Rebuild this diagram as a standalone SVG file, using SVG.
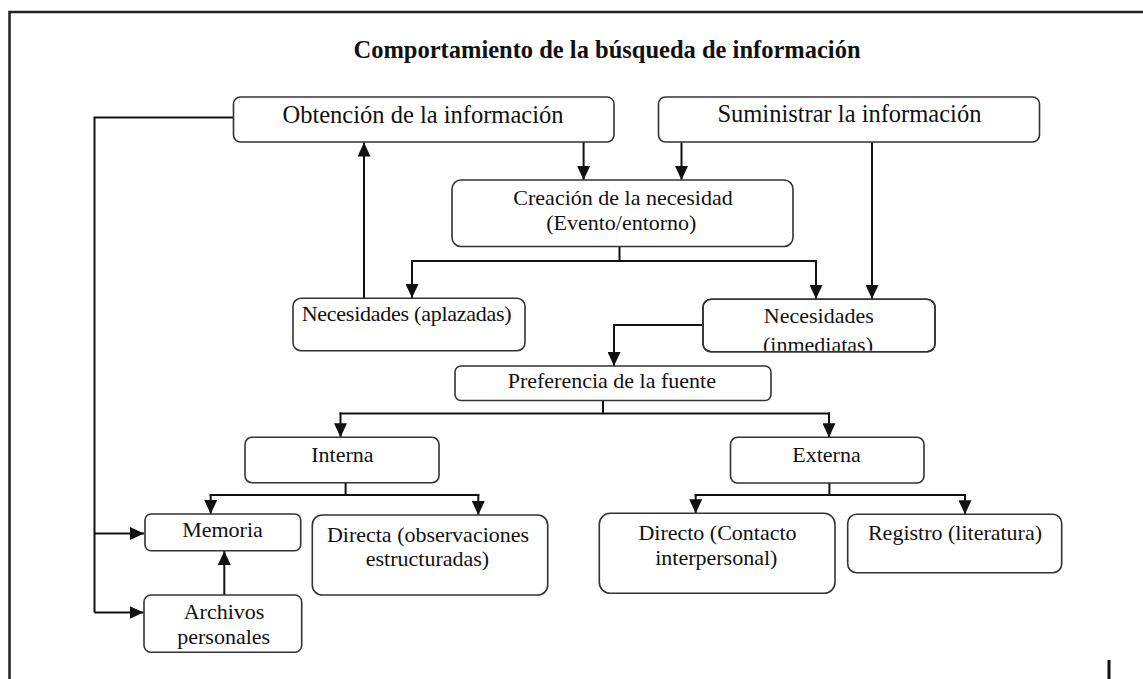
<svg xmlns="http://www.w3.org/2000/svg" width="1143" height="679" viewBox="0 0 1143 679">
<style>
.box{fill:#fff;stroke:#333;stroke-width:1.6}
.t{font-family:"Liberation Serif","Times New Roman",serif;font-size:22px;fill:#111;text-anchor:middle}
.tb{font-size:24.5px}
.title{font-family:"Liberation Serif","Times New Roman",serif;font-size:24.5px;font-weight:bold;fill:#111;text-anchor:middle}
.c{fill:none;stroke:#111;stroke-width:2}
.frame{fill:none;stroke:#222;stroke-width:2.5}
</style>
<defs>
<marker id="ah" markerUnits="userSpaceOnUse" markerWidth="14" markerHeight="13" refX="14" refY="6.5" orient="auto">
<path d="M0,0 L14,6.5 L0,13 z" fill="#111"/>
</marker>
<clipPath id="clipInm"><rect x="703" y="299" width="232" height="51.8"/></clipPath>
</defs>
<rect width="1143" height="679" fill="#fff"/>
<g id="frame">
<path class="frame" d="M9.5,679 V12 H1143"/>
<line x1="1109" y1="660" x2="1109" y2="679" stroke="#111" stroke-width="3"/>
</g>
<text id="title" class="title" x="607" y="58">Comportamiento de la búsqueda de información</text>
<g id="connectors">
<path class="c" d="M233.5,117.5 H94.5 V612.5"/>
<path class="c" d="M94.5,533.5 H144" marker-end="url(#ah)"/>
<path class="c" d="M94.5,612.5 H143.5" marker-end="url(#ah)"/>
<path class="c" d="M364,298 V142.5" marker-end="url(#ah)"/>
<path class="c" d="M583.6,142 V180" marker-end="url(#ah)"/>
<path class="c" d="M681.5,142 V180" marker-end="url(#ah)"/>
<path class="c" d="M872,142 V299" marker-end="url(#ah)"/>
<path class="c" d="M619.5,247 V261"/>
<path class="c" d="M411,261 H817"/>
<path class="c" d="M412,260 V298" marker-end="url(#ah)"/>
<path class="c" d="M816,260 V299" marker-end="url(#ah)"/>
<path class="c" d="M703,325 H614 V366" marker-end="url(#ah)"/>
<path class="c" d="M603,401 V413.5"/>
<path class="c" d="M339.5,413.5 H830"/>
<path class="c" d="M340.5,412.5 V437.3" marker-end="url(#ah)"/>
<path class="c" d="M829,412.5 V437.3" marker-end="url(#ah)"/>
<path class="c" d="M345.6,483 V495"/>
<path class="c" d="M209.7,495 H479.3"/>
<path class="c" d="M210.7,494 V514" marker-end="url(#ah)"/>
<path class="c" d="M478.3,494 V515" marker-end="url(#ah)"/>
<path class="c" d="M829.4,483 V495"/>
<path class="c" d="M694.7,495 H966"/>
<path class="c" d="M695.7,494 V513.3" marker-end="url(#ah)"/>
<path class="c" d="M965,494 V514.3" marker-end="url(#ah)"/>
<path class="c" d="M224.3,595 V551" marker-end="url(#ah)"/>
</g>
<g id="obtencion">
<rect class="box" x="233.5" y="97" width="380.5" height="45" rx="7"/>
<text class="t tb" x="423" y="122.5">Obtención de la información</text>
</g>
<g id="suministrar">
<rect class="box" x="658.5" y="97" width="381" height="45" rx="7"/>
<text class="t tb" x="849.4" y="122">Suministrar la información</text>
</g>
<g id="creacion">
<rect class="box" x="452" y="180" width="341" height="66.5" rx="9"/>
<text class="t" x="623" y="205">Creación de la necesidad</text>
<text class="t" x="621.3" y="230">(Evento/entorno)</text>
</g>
<g id="aplazadas">
<rect class="box" x="293" y="298.3" width="232" height="52.4" rx="8"/>
<text class="t" x="301.7" y="321" style="text-anchor:start" textLength="210" lengthAdjust="spacing">Necesidades  (aplazadas)</text>
</g>
<g id="inmediatas">
<rect class="box" x="703" y="299.3" width="232" height="52.4" rx="8"/>
<text class="t" x="818.8" y="322.5">Necesidades</text>
<text class="t" x="818" y="351.5" clip-path="url(#clipInm)">(inmediatas)</text>
<rect x="703" y="299.3" width="232" height="52.4" rx="8" fill="none" stroke="#333" stroke-width="1.6"/>
</g>
<g id="preferencia">
<rect class="box" x="455" y="366" width="316" height="34.5" rx="6"/>
<text class="t" x="611.8" y="388">Preferencia de la fuente</text>
</g>
<g id="interna">
<rect class="box" x="245" y="437.3" width="194" height="45.4" rx="7"/>
<text class="t" x="342.4" y="461.5">Interna</text>
</g>
<g id="externa">
<rect class="box" x="730.5" y="437.3" width="193.5" height="45.7" rx="7"/>
<text class="t" x="826.5" y="461.5">Externa</text>
</g>
<g id="memoria">
<rect class="box" x="145" y="514" width="155.7" height="36.7" rx="6"/>
<text class="t" x="222.5" y="536.5">Memoria</text>
</g>
<g id="directa">
<rect class="box" x="312.3" y="515" width="235.4" height="80" rx="10"/>
<text class="t" x="428" y="541.5">Directa (observaciones</text>
<text class="t" x="427.5" y="566">estructuradas)</text>
</g>
<g id="archivos">
<rect class="box" x="144" y="595" width="157.7" height="57.3" rx="7"/>
<text class="t" x="224" y="619">Archivos</text>
<text class="t" x="223.7" y="644">personales</text>
</g>
<g id="directo">
<rect class="box" x="599.3" y="513.3" width="235.7" height="80" rx="11"/>
<text class="t" x="717.5" y="540">Directo (Contacto</text>
<text class="t" x="716.3" y="565">interpersonal)</text>
</g>
<g id="registro">
<rect class="box" x="847.7" y="514.3" width="214" height="58.4" rx="9"/>
<text class="t" x="955" y="540">Registro (literatura)</text>
</g>
</svg>
